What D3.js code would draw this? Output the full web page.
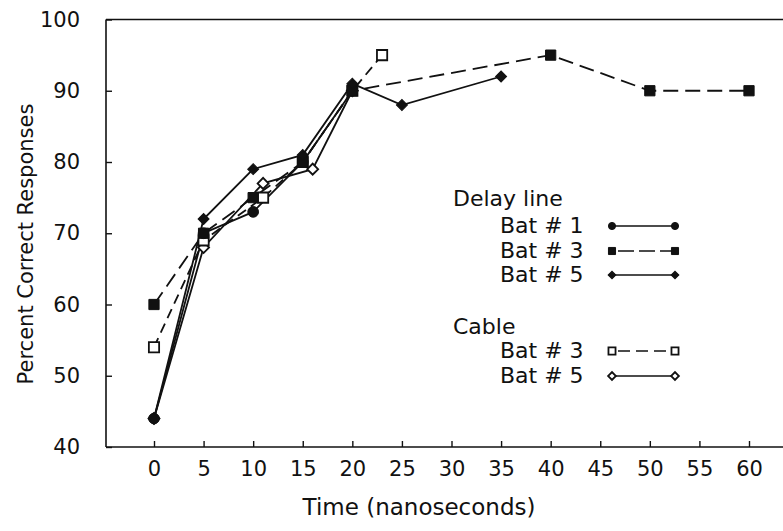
<!DOCTYPE html>
<html>
<head>
<meta charset="utf-8">
<script src="https://cdn.jsdelivr.net/npm/d3@7"></script>
<style>
  html, body { margin: 0; padding: 0; background: #fff; }
  svg { display: block; }
  text { font-family: "DejaVu Sans", sans-serif; fill: #111; }
</style>
</head>
<body>
<svg id="chart" width="783" height="531"></svg>
<script>
// ---- data ----
const xTicks = [0, 5, 10, 15, 20, 25, 30, 35, 40, 45, 50, 55, 60];
const yTicks = [40, 50, 60, 70, 80, 90, 100];

const delayBat1X = [0, 5, 10, 15, 20];
const delayBat1Y = [44, 70, 73, 80, 90];
const delayBat3X = [0, 5, 10, 15, 20, 40, 50, 60];
const delayBat3Y = [60, 70, 75, 80, 90, 95, 90, 90];
const delayBat5X = [0, 5, 10, 15, 20, 25, 35];
const delayBat5Y = [44, 72, 79, 81, 91, 88, 92];
const cableBat3X = [0, 5, 11, 15, 20, 23];
const cableBat3Y = [54, 69, 75, 80, 90, 95];
const cableBat5X = [0, 5, 11, 16, 20];
const cableBat5Y = [44, 68, 77, 79, 90];

const legendGroups = ["Delay line", "Cable"];
const legendLabels = ["Bat # 1", "Bat # 3", "Bat # 5", "Bat # 3", "Bat # 5"];

// ---- series setup ----
const series = [
  { x: delayBat1X, y: delayBat1Y, sym: "circle", fill: true, dash: null },
  { x: delayBat3X, y: delayBat3Y, sym: "square", fill: true, dash: "15,7" },
  { x: delayBat5X, y: delayBat5Y, sym: "diamond", fill: true, dash: null },
  { x: cableBat3X, y: cableBat3Y, sym: "square", fill: false, dash: "10,6" },
  { x: cableBat5X, y: cableBat5Y, sym: "diamond", fill: false, dash: null }
];

const svg = d3.select("#chart");
const ink = "#111";

const x = d3.scaleLinear().domain([0, 60]).range([154, 749]);
const y = d3.scaleLinear().domain([40, 100]).range([447, 19.5]);

const frameLeft = 106, frameRight = 783;

// frame lines
svg.append("line").attr("x1", frameLeft).attr("x2", frameRight)
  .attr("y1", y(100)).attr("y2", y(100)).attr("stroke", ink).attr("stroke-width", 1.6);
svg.append("line").attr("x1", frameLeft).attr("x2", frameLeft)
  .attr("y1", y(100)).attr("y2", y(40)).attr("stroke", ink).attr("stroke-width", 1.6);

// x axis
const xAxis = d3.axisBottom(x).tickValues(xTicks).tickSizeInner(-6).tickSizeOuter(0).tickPadding(14);
const gx = svg.append("g").attr("transform", `translate(0,${y(40)})`).call(xAxis);
gx.select(".domain").remove();
gx.append("line").attr("x1", frameLeft).attr("x2", frameRight).attr("y1", 0).attr("y2", 0)
  .attr("stroke", ink).attr("stroke-width", 1.6);
gx.selectAll(".tick line").attr("stroke", ink).attr("stroke-width", 1.4);
gx.selectAll(".tick text").attr("font-size", 21).attr("font-family", "DejaVu Sans").attr("fill", ink);

// y axis
const yAxis = d3.axisLeft(y).tickValues(yTicks).tickSizeInner(-6).tickSizeOuter(0).tickPadding(26);
const gy = svg.append("g").attr("transform", `translate(${frameLeft},0)`).call(yAxis);
gy.select(".domain").remove();
gy.selectAll(".tick line").attr("stroke", ink).attr("stroke-width", 1.4);
gy.selectAll(".tick text").attr("font-size", 21).attr("font-family", "DejaVu Sans").attr("fill", ink);

// axis titles
svg.append("text").attr("x", 419).attr("y", 515).attr("text-anchor", "middle")
  .attr("font-size", 23).text("Time (nanoseconds)");
svg.append("text").attr("transform", "translate(33,244) rotate(-90)").attr("text-anchor", "middle")
  .attr("font-size", 21).text("Percent Correct Responses");

// symbol drawing
function symbolPath(kind, big) {
  if (kind === "circle") return d3.symbol(d3.symbolCircle, big ? 90 : 40)();
  if (kind === "square") return d3.symbol(d3.symbolSquare, big ? 105 : 50)();
  return d3.symbol(d3.symbolSquare, big ? 60 : 30)();
}
function drawMarker(g, s, cx, cy, big) {
  const rot = s.sym === "diamond" ? 45 : 0;
  g.append("path").attr("d", symbolPath(s.sym, big))
    .attr("transform", `translate(${cx},${cy}) rotate(${rot})`)
    .attr("fill", s.fill ? ink : "#fff")
    .attr("stroke", ink).attr("stroke-width", s.fill ? 1 : 1.8);
}

const line = d3.line().x(d => x(d[0])).y(d => y(d[1]));
const plot = svg.append("g");

series.forEach(s => {
  const pts = s.x.map((v, i) => [v, s.y[i]]);
  plot.append("path").attr("d", line(pts)).attr("fill", "none")
    .attr("stroke", ink).attr("stroke-width", 1.8)
    .attr("stroke-dasharray", s.dash);
});
// open (cable) markers first, filled (delay line) markers on top
[4, 3, 0, 1, 2].forEach(k => {
  const s = series[k];
  s.x.forEach((v, i) => drawMarker(plot, s, x(v), y(s.y[i]), true));
});

// legend
const leg = svg.append("g");
const groupBaselines = [206, 334];
const rowBaselines = [233, 258, 282, 358, 383];
legendGroups.forEach((t, i) => {
  leg.append("text").attr("x", 453).attr("y", groupBaselines[i]).attr("font-size", 22).text(t);
});
legendLabels.forEach((t, i) => {
  const s = series[i];
  const bl = rowBaselines[i];
  leg.append("text").attr("x", 500).attr("y", bl).attr("font-size", 22).text(t);
  const cy = bl - 7;
  leg.append("line").attr("x1", 612).attr("x2", 675).attr("y1", cy).attr("y2", cy)
    .attr("stroke", ink).attr("stroke-width", 1.6)
    .attr("stroke-dasharray", s.dash ? (s.fill ? "16,5" : "12,6") : null)
    .attr("stroke-dashoffset", s.dash ? -6 : 0);
  drawMarker(leg, s, 612, cy, false);
  drawMarker(leg, s, 675, cy, false);
});
</script>
</body>
</html>
